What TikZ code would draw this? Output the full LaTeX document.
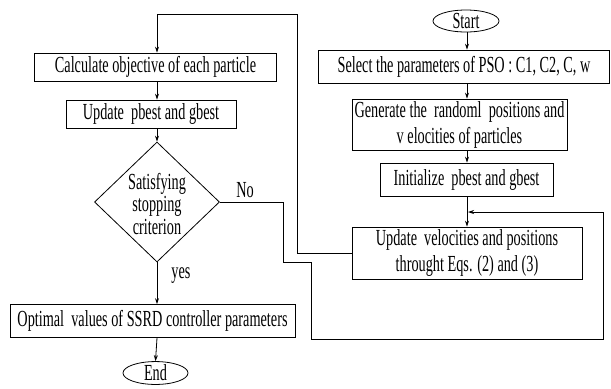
\documentclass[tikz,border=0pt]{standalone}
\usepackage{fontspec}
\setmainfont{Liberation Serif}[FakeStretch=0.62]
\usetikzlibrary{shapes.geometric,arrows.meta}
\begin{document}
\begin{tikzpicture}[x=1bp,y=-1bp,
  every node/.style={font=\fontsize{23bp}{26bp}\selectfont},
  box/.style={draw,line width=0.8bp,inner sep=0pt,align=center},
  term/.style={draw,ellipse,line width=0.8bp,inner sep=0pt},
  conn/.style={line width=0.8bp,-{Stealth[length=6bp,width=4bp]}},
  line/.style={line width=0.8bp}]
\useasboundingbox (0,0) rectangle (611,388);
\coordinate (colL) at (157,0);
\coordinate (colR) at (467,0);
% right column
\node[term,minimum width=66bp,minimum height=22bp] (start) at (466,21) {Start};
\node[box,minimum width=291bp,minimum height=33bp] (select) at (464,66.5) {Select the parameters of PSO : C1, C2, C, w};
\node[box,minimum width=215bp,minimum height=51bp] (gen) at (459.5,124.5) {Generate the \ randoml \ positions and\\v elocities of particles};
\node[box,minimum width=173bp,minimum height=33bp] (init) at (466.5,179.5) {Initialize \ pbest and gbest};
\node[box,minimum width=230bp,minimum height=52bp] (upd) at (467,253) {Update \ velocities and positions\\throught Eqs. (2) and (3)};
% left column
\node[box,minimum width=242bp,minimum height=28bp] (calc) at (155.5,67) {Calculate objective of each particle};
\node[box,minimum width=170bp,minimum height=28bp] (pb) at (151,114) {Update \ pbest and gbest};
\node[draw,diamond,line width=0.8bp,inner sep=0pt,minimum width=125bp,minimum height=120bp,aspect=1.04] (dia) at (157,202) {};
\node[align=center,inner sep=0pt,font=\fontsize{23bp}{22.5bp}\selectfont] (diatext) at (157,204) {Satisfying\\stopping\\criterion};
\node[box,minimum width=285bp,minimum height=33bp] (opt) at (152.5,321) {Optimal \ values of SSRD controller parameters};
\node[term,minimum width=65bp,minimum height=20bp] (end) at (155.5,373) {End};
\node (no) at (245,190) {No};
\node (yes) at (181,276) {yes};
% connectors right
\draw[conn] (start.south -| colR) -- (select.north -| colR);
\draw[conn] (select.south -| colR) -- (gen.north -| colR);
\draw[conn] (gen.south -| colR) -- (init.north -| colR);
\draw[conn] (init.south -| colR) -- (upd.north -| colR);
% loop to top
\coordinate (t1) at (297,14);
\coordinate (t2) at (157,14);
\draw[conn] (upd.west) -- (upd.west -| t1) -- (t1) -- (t2) -- (calc.north -| colL);
% left
\draw[conn] (calc.south -| colL) -- (pb.north -| colL);
\draw[conn] (pb.south -| colL) -- (dia.north);
\draw[conn] (dia.south) -- (opt.north -| colL);
\draw[conn] (opt.south -| colL) -- (end.north);
% No branch
\coordinate (n1) at (283,262);
\coordinate (n2) at (311,262);
\coordinate (n3) at (311,339);
\coordinate (n4) at (603,339);
\coordinate (n5) at (603,212);
\coordinate (n6) at (468,212);
\draw[conn] (dia.east) -- (dia.east -| n1) -- (n1) -- (n2) -- (n3) -- (n4) -- (n5) -- (n6);
\end{tikzpicture}
\end{document}
